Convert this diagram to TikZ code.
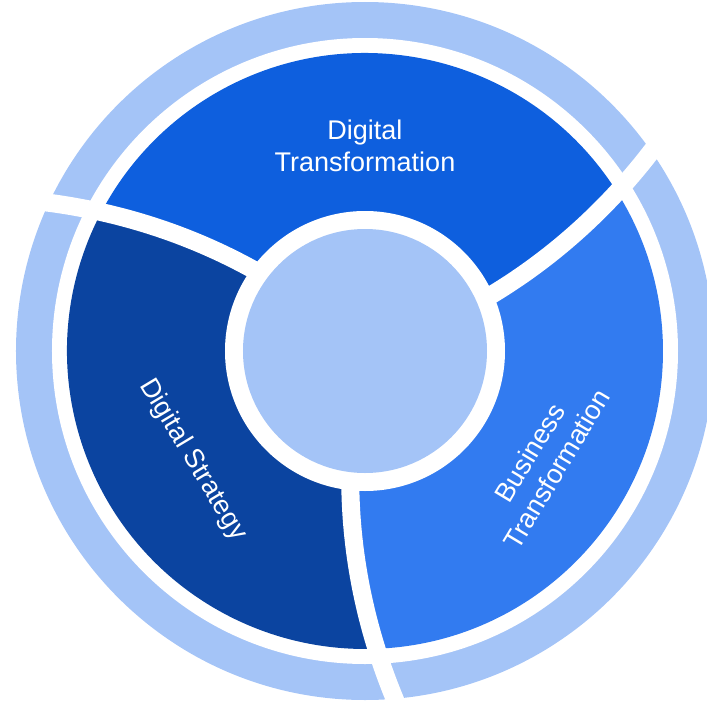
\documentclass[tikz,border=0pt]{standalone}
\usepackage{fontspec}
\setmainfont{Liberation Sans}
\usepackage{xcolor}
\usepackage{tikz}
\definecolor{ringblue}{HTML}{A4C4F7}
\definecolor{topblue}{HTML}{0E5FDE}
\definecolor{darkblue}{HTML}{0B44A0}
\definecolor{brightblue}{HTML}{327BF0}

\begin{document}
\begin{tikzpicture}[x=1pt,y=1pt,variable=\r,samples=40,
		label/.style={text=white,align=center,font=\fontsize{27}{31.5}\selectfont}]
			\useasboundingbox (-365,-351) rectangle (342,351);
			% Vẽ vòng ngoài
			\fill [ringblue] (0,0) circle [radius=349];
			\fill [white] (0,0) circle [radius=313];
			% Vẽ ba phần
			\fill [topblue, domain=100:298] (0,0) -- plot({24+0.052*(\r-140)}:\r)
			arc [start angle=24+0.052*158, end angle=144+0.052*158, radius=298]
			-- plot[domain=298:100]({144+0.052*(\r-140)}:\r) -- cycle;
			\fill [darkblue, domain=100:298] (0,0) -- plot({144+0.052*(\r-140)}:\r)
			arc [start angle=144+0.052*158, end angle=264+0.052*158, radius=298]
			-- plot[domain=298:100]({264+0.052*(\r-140)}:\r) -- cycle;
			\fill [brightblue, domain=100:298] (0,0) -- plot({264+0.052*(\r-140)}:\r)
			arc [start angle=264+0.052*158, end angle=384+0.052*158, radius=298]
			-- plot[domain=298:100]({384+0.052*(\r-140)}:\r) -- cycle;
			% Đường cắt
			\foreach \a in {24,144,264}
			\draw [white, line width=18, domain=120:380] plot({\a+0.052*(\r-140)}:\r);
			% Vòng trong
			\fill [white] (0,0) circle [radius=140];
			\fill [ringblue] (0,0) circle [radius=122];
			% Chữ
			\node [label] (dt) at (0,205) {Digital\\Transformation};
			\node [label, rotate=-59] (ds) at (-172,-109) {Digital Strategy};
			\node [label, rotate=59] (bt) at (178,-110) {Business\\Transformation};
		\end{tikzpicture}
\end{document}
